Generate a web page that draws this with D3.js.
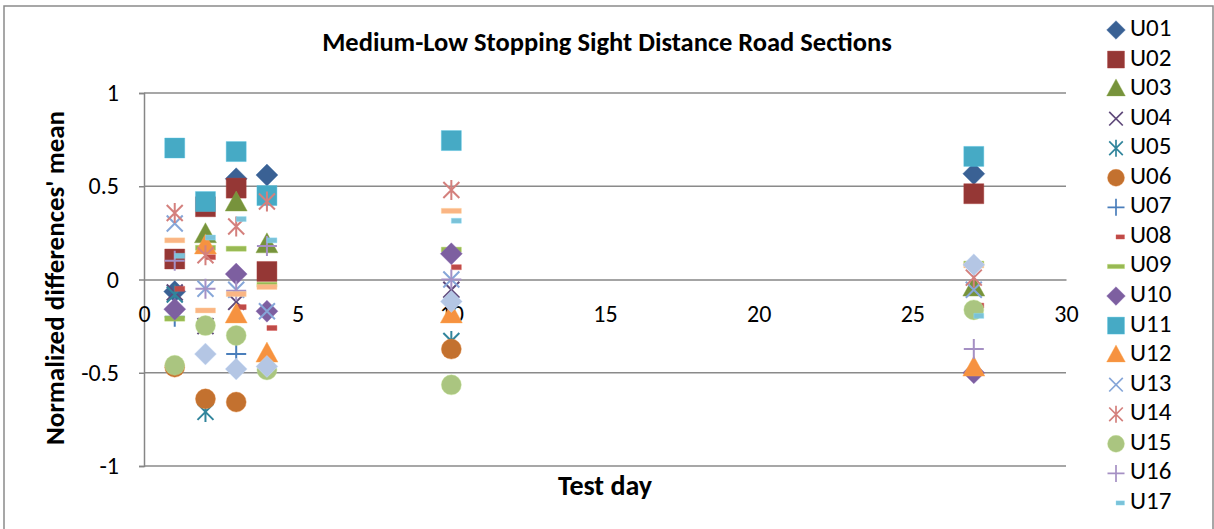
<!DOCTYPE html>
<html>
<head>
<meta charset="utf-8">
<script src="https://cdn.jsdelivr.net/npm/d3@7"></script>
<style>
  body { margin: 0; background: #fff; }
  text { font-family: Calibri, Carlito, Lato, "Open Sans", sans-serif; }
</style>
</head>
<body>
<div id="canvas"></div>
<script>
"use strict";

let svgWidth = 1214;
let svgHeight = 529;

// test days (x values)
let days = [1, 2, 3, 4, 10, 27];

// one array per road user, value for each test day (null = no point)
let U01 = [-0.065, null, 0.54, 0.56, null, 0.567];
let U02 = [0.11, 0.39, 0.49, 0.043, null, 0.46];
let U03 = [null, 0.24, 0.41, 0.186, null, -0.046];
let U04 = [-0.07, -0.25, -0.12, null, -0.055, null];
let U05 = [-0.08, -0.71, null, null, -0.33, null];
let U06 = [-0.47, -0.64, -0.657, null, -0.373, null];
let U07 = [-0.2, null, -0.40, null, null, null];
let U08 = [-0.05, 0.12, -0.148, -0.26, 0.066, -0.14];
let U09 = [-0.21, 0.17, 0.165, -0.028, 0.16, 0.085];
let U10 = [-0.159, null, 0.029, -0.17, 0.138, -0.5];
let U11 = [0.705, 0.418, 0.686, 0.45, 0.745, 0.66];
let U12 = [null, 0.18, -0.19, -0.40, -0.19, -0.475];
let U13 = [0.30, -0.05, -0.055, -0.17, 0.0, -0.055];
let U14 = [0.357, 0.13, 0.284, 0.418, 0.48, 0.01];
let U15 = [-0.46, -0.247, -0.30, -0.485, -0.565, -0.163];
let U16 = [0.10, -0.05, -0.06, 0.18, 0.0, -0.373];
let U17 = [0.127, 0.225, 0.324, 0.21, 0.315, -0.195];
let U18 = [0.21, -0.166, -0.078, -0.04, 0.368, 0.075];
let U19 = [null, -0.40, -0.48, -0.466, -0.118, 0.079];

let seriesNames = ["U01", "U02", "U03", "U04", "U05", "U06", "U07", "U08", "U09", "U10",
                   "U11", "U12", "U13", "U14", "U15", "U16", "U17", "U18", "U19"];
let seriesValues = [U01, U02, U03, U04, U05, U06, U07, U08, U09, U10,
                    U11, U12, U13, U14, U15, U16, U17, U18, U19];

let xTicks = [0, 5, 10, 15, 20, 25, 30];
let yTicks = [-1, -0.5, 0, 0.5, 1];

// Excel-like marker cycle
let shapes = ["diamond", "square", "triangle", "x", "star", "circle", "plus", "short", "long",
              "diamond", "square", "triangle", "x", "star", "circle", "plus", "short", "long", "diamond"];
let colors = ["#3A6194", "#953735", "#77933C", "#5F497A", "#31859C", "#C3712F", "#4A7EBB", "#BE4B48",
              "#98B954", "#7D5FA0", "#46AAC5", "#F69240", "#86A6D8", "#D4807D", "#AAC580", "#A590C4",
              "#7BC2D8", "#FAB584", "#B4C6E4"];

let series = seriesNames.map(function(name, i) {
  return {
    name: name,
    shape: shapes[i],
    color: colors[i],
    points: days.map(function(d, j) { return { day: d, value: seriesValues[i][j] }; })
                .filter(function(p) { return p.value !== null; })
  };
});

let svg = d3.select("#canvas")
  .append("svg")
  .attr("width", svgWidth)
  .attr("height", svgHeight);

// chart border
svg.append("rect")
  .attr("x", 4)
  .attr("y", 6)
  .attr("width", 1209)
  .attr("height", 530)
  .attr("fill", "none")
  .attr("stroke", "#8a8a8a")
  .attr("stroke-width", 1.5);

let xScale = d3.scaleLinear().domain([0, 30]).range([144, 1066]);
let yScale = d3.scaleLinear().domain([-1, 1]).range([466, 93]);

// horizontal gridlines
svg.append("g")
  .selectAll("line")
  .data(yTicks.filter(function(t) { return t !== 0; }))
  .enter()
  .append("line")
  .attr("x1", xScale(0))
  .attr("x2", xScale(30))
  .attr("y1", function(d) { return yScale(d); })
  .attr("y2", function(d) { return yScale(d); })
  .attr("stroke", "#8a8a8a")
  .attr("stroke-width", 1.5);

// y axis
let yAxis = svg.append("g")
  .attr("transform", "translate(" + xScale(0) + ",0)")
  .call(d3.axisLeft(yScale).tickValues(yTicks).tickFormat(String).tickSize(5).tickPadding(20));
yAxis.selectAll("path, line").attr("stroke", "#868686").attr("stroke-width", 1.5);
yAxis.selectAll("text").style("font-size", "24px").attr("fill", "#000");

// x axis, crossing at y = 0
let xAxis = svg.append("g")
  .attr("transform", "translate(0," + yScale(0) + ")")
  .call(d3.axisBottom(xScale).tickValues(xTicks).tickFormat(String).tickSize(0).tickPadding(25));
xAxis.selectAll("path").attr("stroke", "#868686").attr("stroke-width", 1.5);
xAxis.selectAll("text").style("font-size", "24px").attr("fill", "#000");

// marker shapes, drawn around (0,0)
function markerPath(shape) {
  let p = d3.path();
  if (shape === "diamond") {
    p.moveTo(0, -11); p.lineTo(11, 0); p.lineTo(0, 11); p.lineTo(-11, 0); p.closePath();
  } else if (shape === "square") {
    p.rect(-10, -10, 20, 20);
  } else if (shape === "triangle") {
    p.moveTo(0, -12); p.lineTo(11, 8); p.lineTo(-11, 8); p.closePath();
  } else if (shape === "circle") {
    p.arc(0, 0, 10, 0, 2 * Math.PI);
  } else if (shape === "long") {
    p.rect(-10, -2.5, 20, 5);
  } else if (shape === "short") {
    p.rect(0, -2.5, 10, 5);
  } else if (shape === "x") {
    p.moveTo(-8, -8); p.lineTo(8, 8); p.moveTo(8, -8); p.lineTo(-8, 8);
  } else if (shape === "star") {
    p.moveTo(-8, -8); p.lineTo(8, 8); p.moveTo(8, -8); p.lineTo(-8, 8);
    p.moveTo(0, -10); p.lineTo(0, 10);
  } else if (shape === "plus") {
    p.moveTo(-10, 0); p.lineTo(10, 0); p.moveTo(0, -10); p.lineTo(0, 10);
  }
  return p.toString();
}

function isOpen(shape) {
  return shape === "x" || shape === "star" || shape === "plus";
}

function styleMarker(sel) {
  sel.attr("d", function(d) { return markerPath(d.shape); })
    .attr("fill", function(d) { return isOpen(d.shape) ? "none" : d.color; })
    .attr("stroke", function(d) { return isOpen(d.shape) ? d.color : d3.color(d.color).brighter(0.4); })
    .attr("stroke-width", function(d) { return isOpen(d.shape) ? 2 : 0.8; })
    .attr("stroke-opacity", function(d) { return isOpen(d.shape) ? 1 : 0.5; });
}

// points, later series on top
let groups = svg.append("g")
  .selectAll("g")
  .data(series)
  .enter()
  .append("g");

groups.selectAll("path")
  .data(function(s) {
    return s.points.map(function(p) { return { day: p.day, value: p.value, shape: s.shape, color: s.color }; });
  })
  .enter()
  .append("path")
  .attr("transform", function(d) { return "translate(" + xScale(d.day) + "," + yScale(d.value) + ")"; })
  .call(styleMarker);

// title
svg.append("text")
  .attr("x", 607)
  .attr("y", 45)
  .attr("text-anchor", "middle")
  .attr("dominant-baseline", "middle")
  .style("font-size", "26.5px")
  .style("font-weight", "bold")
  .text("Medium-Low Stopping Sight Distance Road Sections");

// axis titles
svg.append("text")
  .attr("x", 605)
  .attr("y", 488)
  .attr("text-anchor", "middle")
  .attr("dominant-baseline", "middle")
  .style("font-size", "28px")
  .style("font-weight", "bold")
  .text("Test day");

svg.append("text")
  .attr("transform", "translate(57,278) rotate(-90)")
  .attr("text-anchor", "middle")
  .attr("dominant-baseline", "middle")
  .style("font-size", "27px")
  .style("font-weight", "bold")
  .text("Normalized differences' mean");

// legend (only room for the first 17 entries)
let legendItems = series.slice(0, 17);
let legend = svg.append("g")
  .selectAll("g")
  .data(legendItems)
  .enter()
  .append("g")
  .attr("transform", function(d, i) { return "translate(1116," + (30 + i * 29.56) + ")"; });

legend.append("path")
  .attr("transform", "scale(0.85)")
  .call(styleMarker);

legend.append("text")
  .attr("x", 14)
  .attr("y", 0)
  .attr("dominant-baseline", "middle")
  .style("font-size", "25px")
  .text(function(d) { return d.name; });
</script>
</body>
</html>
